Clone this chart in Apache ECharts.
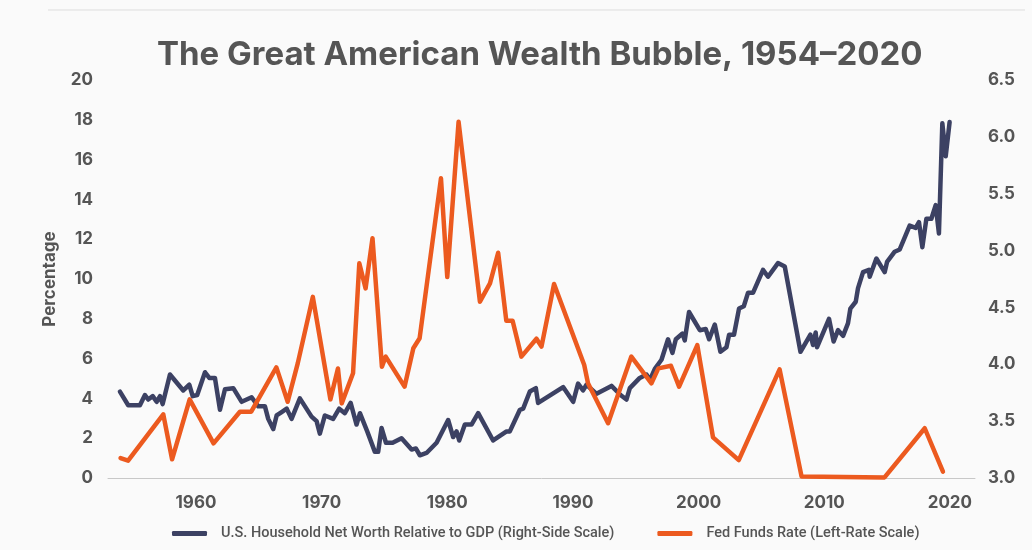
<!DOCTYPE html>
<html>
<head>
<meta charset="utf-8">
<script src="https://cdn.jsdelivr.net/npm/echarts@6/dist/echarts.min.js"></script>
<style>
  html, body { margin: 0; padding: 0; background: #fafafa; }
  #chart { width: 1032px; height: 550px; }
</style>
</head>
<body>
<div id="chart"></div>
<script>
// Fed Funds Rate, percent (left axis)
var fedYears = [1954.0, 1954.6, 1957.4, 1958.1, 1959.5, 1961.4, 1963.5, 1964.4, 1966.4, 1967.3,
  1968.1, 1969.3, 1970.7, 1971.3, 1971.6, 1972.5, 1973.0, 1973.5, 1974.05, 1974.8,
  1975.1, 1976.6, 1977.3, 1977.8, 1979.5, 1980.0, 1980.9, 1982.6, 1983.4, 1984.05,
  1984.7, 1985.2, 1985.9, 1987.1, 1987.5, 1988.5, 1990.9, 1991.2, 1992.8, 1994.65,
  1996.25, 1996.8, 1997.8, 1998.45, 1999.9, 2001.15, 2003.2, 2006.45, 2008.2, 2014.8,
  2018.0, 2019.45]
var fedRates = [1.0, 0.87, 3.2, 0.94, 3.95, 1.74, 3.33, 3.33, 5.56, 3.83,
  5.76, 9.1, 3.95, 5.5, 3.75, 5.26, 10.79, 9.53, 12.05, 5.59,
  6.1, 4.59, 6.52, 7.02, 15.06, 10.1, 17.9, 8.86, 9.78, 11.32,
  7.9, 7.9, 6.1, 7.0, 6.6, 9.75, 5.68, 4.76, 2.75, 6.1,
  4.76, 5.51, 5.64, 4.59, 6.68, 2.04, 0.9, 5.46, 0.07, 0.03,
  2.5, 0.32]

// household net worth / GDP (right axis)
var worthYears = [1953.95, 1954.61, 1955.54, 1955.94, 1956.2, 1956.56, 1956.87, 1957.14, 1957.35, 1957.93,
  1958.99, 1959.47, 1959.74, 1960.1, 1960.72, 1961.06, 1961.51, 1961.91, 1962.31, 1962.97,
  1963.64, 1964.43, 1964.96, 1965.49, 1965.75, 1966.15, 1966.42, 1966.82, 1967.22, 1967.61,
  1968.27, 1969.2, 1969.6, 1969.86, 1970.26, 1970.92, 1971.4, 1971.85, 1972.31, 1972.78,
  1973.05, 1973.63, 1974.24, 1974.5, 1974.77, 1975.12, 1975.65, 1976.36, 1977.16, 1977.5,
  1977.82, 1978.35, 1979.15, 1980.07, 1980.47, 1980.74, 1980.95, 1981.4, 1981.93, 1982.46,
  1983.65, 1984.72, 1984.98, 1985.78, 1986.04, 1986.57, 1987.05, 1987.23, 1989.22, 1990.02,
  1990.41, 1990.81, 1991.08, 1991.88, 1993.07, 1993.79, 1994.26, 1994.53, 1995.32, 1995.86,
  1996.12, 1996.52, 1997.05, 1997.57, 1997.92, 1998.19, 1998.72, 1998.9, 1999.24, 2000.1,
  2000.57, 2000.84, 2001.29, 2001.74, 2002.22, 2002.43, 2002.82, 2003.22, 2003.6, 2003.94,
  2004.34, 2005.13, 2005.53, 2006.32, 2006.86, 2008.11, 2008.58, 2008.9, 2009.11, 2009.32,
  2009.43, 2010.38, 2010.75, 2011.1, 2011.5, 2011.89, 2012.08, 2012.51, 2012.69, 2013.09,
  2013.56, 2013.62, 2014.15, 2014.81, 2015.0, 2015.61, 2016.01, 2016.8, 2017.28, 2017.54,
  2017.81, 2018.13, 2018.53, 2018.87, 2019.13, 2019.4, 2019.67, 2019.98]
var worthRatio = [3.76, 3.64, 3.64, 3.73, 3.69, 3.72, 3.67, 3.72, 3.65, 3.91,
  3.77, 3.82, 3.72, 3.73, 3.93, 3.88, 3.88, 3.60, 3.78, 3.79,
  3.67, 3.71, 3.63, 3.63, 3.52, 3.43, 3.55, 3.58, 3.61, 3.52,
  3.70, 3.54, 3.50, 3.39, 3.55, 3.52, 3.61, 3.57, 3.66, 3.47,
  3.57, 3.41, 3.23, 3.23, 3.44, 3.31, 3.31, 3.35, 3.25, 3.26,
  3.20, 3.22, 3.31, 3.51, 3.36, 3.41, 3.33, 3.47, 3.47, 3.57,
  3.33, 3.41, 3.41, 3.60, 3.61, 3.76, 3.79, 3.66, 3.80, 3.67,
  3.83, 3.77, 3.82, 3.74, 3.81, 3.73, 3.69, 3.79, 3.88, 3.91,
  3.86, 3.96, 4.04, 4.22, 4.10, 4.22, 4.27, 4.21, 4.46, 4.30,
  4.31, 4.22, 4.35, 4.11, 4.15, 4.26, 4.26, 4.49, 4.51, 4.63,
  4.63, 4.83, 4.77, 4.89, 4.86, 4.11, 4.20, 4.26, 4.17, 4.28,
  4.15, 4.40, 4.20, 4.30, 4.25, 4.36, 4.49, 4.55, 4.67, 4.81,
  4.83, 4.77, 4.93, 4.81, 4.90, 4.99, 5.01, 5.22, 5.20, 5.25,
  5.03, 5.28, 5.28, 5.40, 5.15, 6.12, 5.83, 6.13]

var yearTicks = [1960, 1970, 1980, 1990, 2000, 2010, 2020]

var navy = '#3c4163'
var orange = '#ec5a1f'
var grey = '#555555'

function pairs (xs, ys) {
  return xs.map(function (x, i) { return [x, ys[i]] })
}

var chart = echarts.init(document.getElementById('chart'))

chart.setOption({
  backgroundColor: '#fafafa',
  animation: false,
  textStyle: { fontFamily: 'Inter' },
  title: {
    text: 'The Great American Wealth Bubble, 1954–2020',
    left: 152,
    top: 34,
    textStyle: { fontFamily: 'Inter', fontSize: 33, fontWeight: 'bold', color: grey }
  },
  graphic: [{
    type: 'line',
    shape: { x1: 48, y1: 10, x2: 1025, y2: 10 },
    style: { stroke: '#dddddd', lineWidth: 1 }
  }],
  grid: { left: 108, right: 57, top: 80, bottom: 72 },
  legend: {
    left: 167,
    top: 521,
    itemGap: 43,
    itemWidth: 35,
    itemHeight: 5,
    icon: 'roundRect',
    textStyle: { fontFamily: 'Roboto', fontSize: 14.5, fontWeight: 500, color: grey, padding: [0, 0, 0, 9] },
    data: ['U.S. Household Net Worth Relative to GDP (Right-Side Scale)', 'Fed Funds Rate (Left-Rate Scale)']
  },
  xAxis: {
    type: 'value',
    min: 1953,
    max: 2022,
    splitLine: { show: false },
    axisLine: { lineStyle: { color: '#c8c8c8', width: 1 } },
    axisTick: { show: false },
    axisLabel: {
      customValues: yearTicks,
      margin: 16,
      fontSize: 17,
      fontWeight: 'bold',
      color: grey,
      formatter: function (v) { return String(v) }
    }
  },
  yAxis: [{
    type: 'value',
    min: 0,
    max: 20,
    interval: 2,
    name: 'Percentage',
    nameLocation: 'middle',
    nameGap: 50,
    nameTextStyle: { fontSize: 17, fontWeight: 'bold', color: grey },
    splitLine: { show: false },
    axisLine: { show: false },
    axisTick: { show: false },
    axisLabel: { margin: 15, fontSize: 17, fontWeight: 'bold', color: grey }
  }, {
    type: 'value',
    min: 3,
    max: 6.5,
    interval: 0.5,
    splitLine: { show: false },
    axisLine: { show: false },
    axisTick: { show: false },
    axisLabel: {
      margin: 13,
      fontSize: 17,
      fontWeight: 'bold',
      color: grey,
      formatter: function (v) { return v.toFixed(1) }
    }
  }],
  series: [{
    name: 'U.S. Household Net Worth Relative to GDP (Right-Side Scale)',
    type: 'line',
    yAxisIndex: 1,
    showSymbol: false,
    color: navy,
    lineStyle: { width: 4.5, cap: 'round', join: 'round' },
    data: pairs(worthYears, worthRatio)
  }, {
    name: 'Fed Funds Rate (Left-Rate Scale)',
    type: 'line',
    yAxisIndex: 0,
    showSymbol: false,
    color: orange,
    lineStyle: { width: 4.5, cap: 'round', join: 'round' },
    data: pairs(fedYears, fedRates)
  }]
})
</script>
</body>
</html>
